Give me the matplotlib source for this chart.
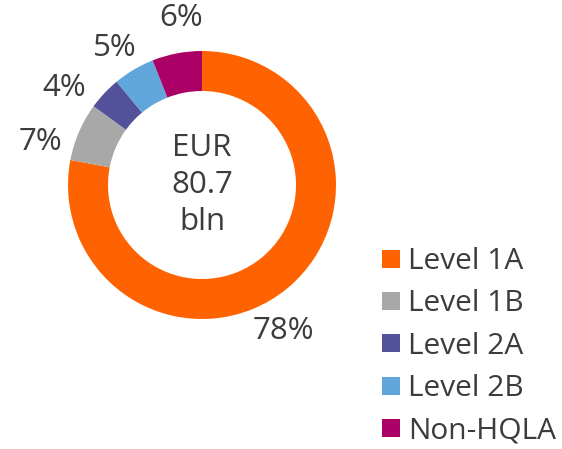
import matplotlib
matplotlib.use('Agg')
import matplotlib.pyplot as plt
from matplotlib.lines import Line2D

# data
categories = ['Level 1A', 'Level 1B', 'Level 2A', 'Level 2B', 'Non-HQLA']
shares = [78, 7, 4, 5, 6]
pct_labels = ['78%', '7%', '4%', '5%', '6%']
colors = ['#FF6200', '#A8A8A8', '#525199', '#60A6DA', '#AB0066']
center_text = 'EUR\n80.7\nbln'

# label spots in pixels from top-left (hand placed, Excel style)
label_pos = [(283, 331), (40, 142), (64, 88), (115, 48), (181, 18)]

W, H = 562, 449
text_color = '#3C3C3C'
font_size = 22.5
legend_size = 21.5
plt.rcParams['font.family'] = ['Open Sans', 'DejaVu Sans']

fig = plt.figure(figsize=(W / 100, H / 100), dpi=100)
ax = fig.add_axes([0, 0, 1, 1])

cx, cy = 202, H - 185
wedges, _ = ax.pie(shares, colors=colors, startangle=90, counterclock=False,
                   center=(cx, cy), radius=134, frame=True,
                   wedgeprops=dict(width=40, linewidth=0))
ax.set_xlim(0, W)
ax.set_ylim(0, H)
ax.set_aspect('equal')
ax.axis('off')

for txt, (px, py) in zip(pct_labels, label_pos):
    ax.text(px, H - py, txt, ha='center', va='center', fontsize=font_size,
            color=text_color)

ax.text(cx, cy, center_text, ha='center', va='center', fontsize=font_size,
        color=text_color, linespacing=1.32)

handles = [Line2D([], [], marker='s', linestyle='none', markersize=13.5,
                  markerfacecolor=c, markeredgewidth=0) for c in colors]
fig.legend(handles, categories, loc='upper left', bbox_to_anchor=(378 / W, 1 - 247 / H),
           frameon=False, fontsize=legend_size, labelcolor=text_color, handlelength=0.85,
           handletextpad=0.15, labelspacing=0.45, borderaxespad=0, borderpad=0)

fig.savefig('out.png', dpi=100)
